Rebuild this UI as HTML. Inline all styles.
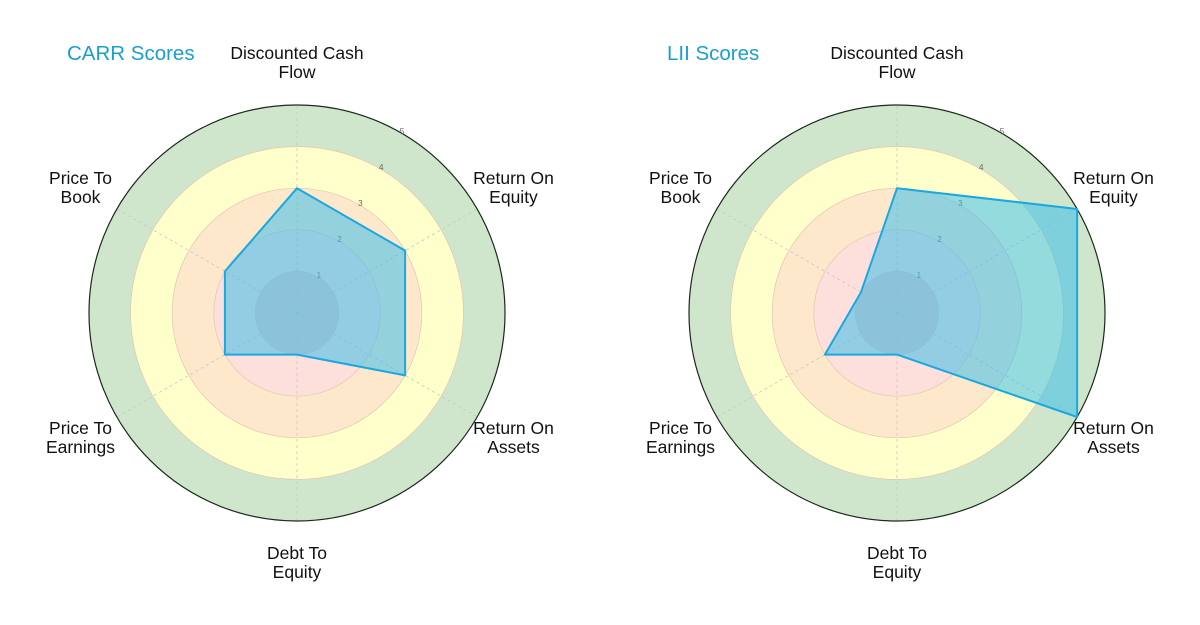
<!DOCTYPE html>
<html><head><meta charset="utf-8"><style>
body{margin:0;background:#fff;}
svg{display:block;font-family:"Liberation Sans","DejaVu Sans",sans-serif;}
</style></head><body>
<svg id="chart" width="1200" height="625"></svg>
<script>
const categories = ["Discounted Cash\nFlow","Return On\nEquity","Return On\nAssets","Debt To\nEquity","Price To\nEarnings","Price To\nBook"];
const carrValues = [3,3,3,1,2,2];
const liiValues = [3,5,5,1,2,1];
const ringTicks = ["1","2","3","4","5"];
const titles = ["CARR Scores","LII Scores"];

const NS="http://www.w3.org/2000/svg";
const svg=document.getElementById('chart');
function mk(tag,attrs,parent){const e=document.createElementNS(NS,tag);for(const k in attrs)e.setAttribute(k,attrs[k]);(parent||svg).appendChild(e);return e;}
const R=208, maxV=5;
const bandColors=["#cfe6cc","#ffffcc","#fde8cc","#fde0dc","#f0c8c8"];
function rScale(v){return v/maxV*R;}
function ang(i){return Math.PI/2 - i*2*Math.PI/categories.length;}
function drawRadar(cx,cy,vals,title,key){
  const g=mk('g',{});
  
  
  for(let k=maxV;k>=1;k--){
    const c=mk('circle',{cx:cx,cy:cy,r:rScale(k),fill:bandColors[maxV-k],stroke:k==maxV?'#1a2a1a':'#e0c8b0','stroke-width':k==maxV?1.2:0.7},g);
    
    
  }
  categories.forEach((cat,i)=>{
    const a=ang(i);
    const l=mk('line',{x1:cx,y1:cy,x2:cx+R*Math.cos(a),y2:cy-R*Math.sin(a),stroke:'#c8c8c8','stroke-width':0.8,'stroke-dasharray':'3,3'},g);
    
    
    const lr=250, lx=cx+lr*Math.cos(a), ly=cy-lr*Math.sin(a);
    const lines=cat.split('\n');
    const t=mk('text',{x:lx,y:ly-10+6,'text-anchor':'middle','font-size':17.5,fill:'#111'},g);
    
    
    lines.forEach((s,j)=>{const ts=mk('tspan',{x:lx,dy:j?19:0},t);ts.textContent=s;});
  });
  ringTicks.forEach((s,k)=>{
    const r=rScale(k+1)+2, a=Math.PI/3;
    const t=mk('text',{x:cx+r*Math.cos(a),y:cy-r*Math.sin(a)+3,'text-anchor':'middle','font-size':8,fill:'#666'},g);
    t.textContent=s;
    
    
  });
  const pts=vals.map((v,i)=>{const a=ang(i);return (cx+rScale(v)*Math.cos(a)).toFixed(1)+','+(cy-rScale(v)*Math.sin(a)).toFixed(1);}).join(' ');
  const p=mk('polygon',{points:pts,fill:'rgba(60,190,235,0.55)',stroke:'#1aa8e0','stroke-width':2,'stroke-linejoin':'round'},g);
  
  
  const tt=mk('text',{x:cx-230,y:60,'font-size':20.5,fill:'#1a9fcf'},g);
  tt.textContent=title;
  
  
}
drawRadar(297,313,carrValues,titles[0],'carr');
drawRadar(897,313,liiValues,titles[1],'lii');
</script>
</body></html>
